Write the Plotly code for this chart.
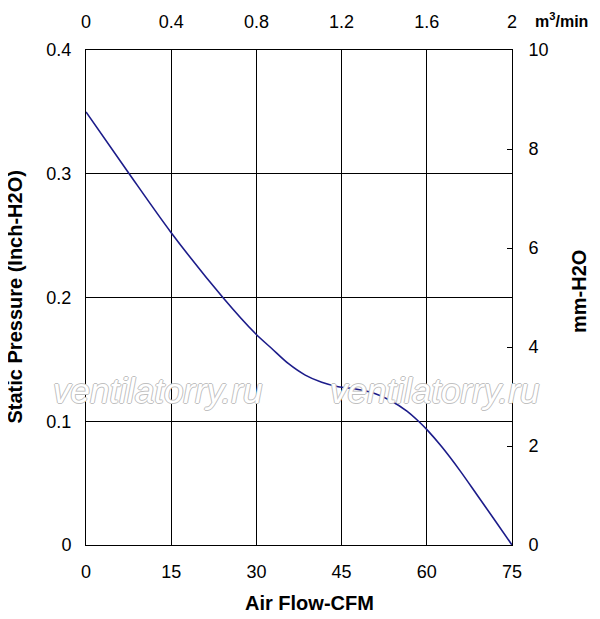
import plotly.graph_objects as go

# данные
airflow_cfm = [0, 7.6, 14.9, 24.1, 29.9, 32.7, 35.6, 38.6, 41.5, 44.4, 47.7, 50.6, 53.5, 56.5,
               58.5, 60.1, 62.6, 65.9, 68.8, 71.7, 75]
pressure_inch = [0.350, 0.300, 0.253, 0.200, 0.1705, 0.1588, 0.1467, 0.1373, 0.1315, 0.1279, 0.1259,
                 0.1229, 0.1170, 0.1082, 0.1002, 0.0928, 0.0795, 0.0597, 0.0408, 0.0218, 0.0]

x_ticks = [0, 15, 30, 45, 60, 75]
y_ticks = [0, 0.1, 0.2, 0.3, 0.4]
top_ticks = [0, 0.4, 0.8, 1.2, 1.6, 2]
right_ticks = [0, 2, 4, 6, 8, 10]

FONT = "Liberation Sans, Arial, sans-serif"
TICK_FONT = dict(family=FONT, size=18, color="black")
TITLE_FONT = dict(family=FONT, size=20, color="black")

fig = go.Figure()
fig.add_trace(go.Scatter(x=airflow_cfm, y=pressure_inch, mode="lines",
                         line=dict(color="#1c1c8a", width=1.6, shape="spline", smoothing=0.8),
                         showlegend=False, hoverinfo="skip"))
# пустая трасса, чтобы отрисовались вторые оси
fig.add_trace(go.Scatter(x=[0], y=[0], xaxis="x2", yaxis="y2", mode="markers",
                         marker=dict(opacity=0), showlegend=False, hoverinfo="skip"))

axis_common = dict(showline=True, linecolor="black", linewidth=1, automargin=False,
                   tickfont=TICK_FONT, zeroline=False)

# поля сдвинуты на 8px: у страницы есть отступ body
fig.update_layout(
    width=600, height=619,
    margin=dict(l=78, r=96, t=42, b=82),
    plot_bgcolor="white", paper_bgcolor="white",
    xaxis=dict(range=[0, 75], tickvals=x_ticks, showgrid=True, gridcolor="black", gridwidth=1,
               ticks="", ticklabelstandoff=10, **axis_common),
    yaxis=dict(range=[0, 0.4], tickvals=y_ticks, tickformat=".1~f", showgrid=True, gridcolor="black",
               gridwidth=1, ticks="", ticklabelstandoff=10, **axis_common),
    xaxis2=dict(range=[0, 2], tickvals=top_ticks, overlaying="x", side="top", showgrid=False,
                ticks="", ticklabelstandoff=14, anchor="y", **axis_common),
    yaxis2=dict(range=[0, 10], tickvals=right_ticks, overlaying="y", side="right", showgrid=False,
                ticks="inside", ticklen=5, tickcolor="black", ticklabelstandoff=12, anchor="x",
                **axis_common),
)

# подписи осей
fig.add_annotation(text="<b>Static Pressure (Inch-H2O)</b>", xref="paper", yref="paper",
                   x=-0.1655, y=0.501, textangle=-90, showarrow=False, xanchor="center",
                   yanchor="middle", font=TITLE_FONT)
fig.add_annotation(text="<b>Air Flow-CFM</b>", xref="paper", yref="paper", x=0.5235, y=-0.117,
                   showarrow=False, xanchor="center", yanchor="middle", font=TITLE_FONT)
fig.add_annotation(text="<b>mm-H2O</b>", xref="paper", yref="paper", x=1.157, y=0.513,
                   textangle=-90, showarrow=False, xanchor="center", yanchor="middle",
                   font=TITLE_FONT)
fig.add_annotation(text="<b>m<sup>3</sup>/min</b>", xref="paper", yref="paper", x=1.049, y=1.0606,
                   xanchor="left", yanchor="middle", showarrow=False,
                   font=dict(family=FONT, size=16, color="black"))

# водяной знак
outline = "1px 0 0 #c0c0c0, -1px 0 0 #c0c0c0, 0 1px 0 #c0c0c0, 0 -1px 0 #c0c0c0"
for wx in [0.169, 0.819]:
    fig.add_annotation(text="<i>ventilatorry.ru</i>", xref="paper", yref="paper", x=wx, y=0.313,
                       xanchor="center", yanchor="middle", showarrow=False,
                       font=dict(family=FONT, size=35, color="white", shadow=outline))

fig.write_html("out.html")
